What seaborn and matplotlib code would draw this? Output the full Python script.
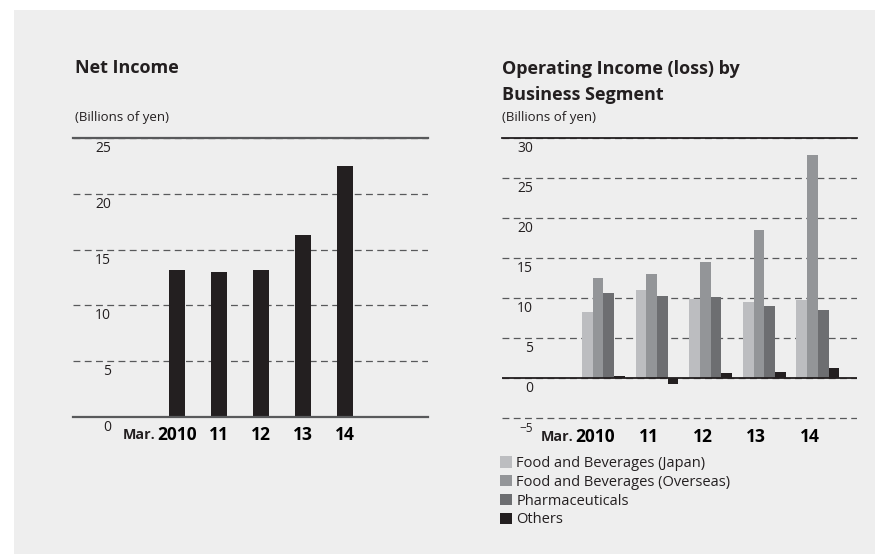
import matplotlib
matplotlib.use("Agg")
import matplotlib.pyplot as plt
import matplotlib.transforms as mtransforms
from matplotlib.patches import Rectangle
import seaborn as sns
import pandas as pd

# ---- data ----
years = ["2010", "11", "12", "13", "14"]
net_income = [13.2, 13.0, 13.2, 16.3, 22.5]

segments = ["Food and Beverages (Japan)", "Food and Beverages (Overseas)",
            "Pharmaceuticals", "Others"]
food_japan = [8.3, 11.0, 9.9, 9.5, 9.8]
food_overseas = [12.5, 13.0, 14.5, 18.5, 27.9]
pharma = [10.6, 10.3, 10.1, 9.0, 8.5]
others = [0.2, -0.7, 0.6, 0.75, 1.25]

left_yticks = [0, 5, 10, 15, 20, 25]
right_yticks = [-5, 0, 5, 10, 15, 20, 25, 30]
right_yticklabels = ["\u22125", "0", "5", "10", "15", "20", "25", "30"]

seg_colors = ["#bcbdc0", "#939598", "#6d6e71", "#231f20"]
bg = "#eeeeee"
grid_col = "#58595b"

plt.rcParams["font.family"] = ["Open Sans", "DejaVu Sans"]
plt.rcParams["text.color"] = "#231f20"

W, H = 875, 554
fig = plt.figure(figsize=(W / 100, H / 100), dpi=100, facecolor="white")
fig.patches.append(Rectangle((14 / W, 0), 1, 1 - 10 / H, transform=fig.transFigure,
                             facecolor=bg, edgecolor="none", zorder=-10))


def fx(px):
    return px / W


def fy(py):
    return 1 - py / H


ax1 = fig.add_axes([fx(73), fy(417), fx(428) - fx(73), fy(138) - fy(417)])
ax2 = fig.add_axes([fx(502), fy(420), fx(857) - fx(502), fy(138) - fy(420)])
for ax in (ax1, ax2):
    ax.set_facecolor("none")

# ---- left chart ----
df1 = pd.DataFrame({"Year": years, "Net Income": net_income})
sns.barplot(data=df1, x="Year", y="Net Income", color="#231f20", width=0.38,
            linewidth=0, saturation=1, ax=ax1, zorder=3)
ax1.set_ylim(0, 25)
ax1.set_xlim(-2.48, 5.98)

# ---- right chart ----
rows = []
for name, vals in zip(segments, [food_japan, food_overseas, pharma, others]):
    for y, v in zip(years, vals):
        rows.append({"Year": y, "Segment": name, "Value": v})
df2 = pd.DataFrame(rows)
sns.barplot(data=df2, x="Year", y="Value", hue="Segment", hue_order=segments,
            palette=seg_colors, width=0.8, linewidth=0, saturation=1,
            ax=ax2, zorder=3)
ax2.set_ylim(-5.25, 30)
ax2.set_xlim(-1.89, 4.73)
handles, labels = ax2.get_legend_handles_labels()
ax2.get_legend().remove()

# ---- styling ----
for ax, yt in ((ax1, left_yticks), (ax2, right_yticks)):
    ax.set_xlabel("")
    ax.set_ylabel("")
    ax.set_yticks(yt)
    for s in ax.spines.values():
        s.set_visible(False)
    ax.yaxis.grid(True, color=grid_col, linewidth=0.9, linestyle=(0, (5.5, 3.5)), zorder=0)
    ax.xaxis.grid(False)
    ax.tick_params(axis="both", length=0)

ax1.spines["top"].set_visible(True)
ax1.spines["top"].set_color(grid_col)
ax1.spines["top"].set_linewidth(1.6)
ax1.spines["bottom"].set_visible(True)
ax1.spines["bottom"].set_color(grid_col)
ax1.spines["bottom"].set_linewidth(1.6)
ax1.spines["bottom"].set_zorder(4)

ax2.spines["top"].set_visible(True)
ax2.spines["top"].set_color("#231f20")
ax2.spines["top"].set_linewidth(1.3)
ax2.axhline(0, color="#231f20", linewidth=1.3, zorder=4)

# y tick labels inside
ax1.tick_params(axis="y", pad=-27.4, labelsize=10, labelcolor="#231f20")
ax2.tick_params(axis="y", pad=-22.3, labelsize=10, labelcolor="#231f20")
ax2.set_yticklabels(right_yticklabels)
for ax in (ax1, ax2):
    for lbl in ax.get_yticklabels():
        lbl.set_va("top")
        lbl.set_transform(lbl.get_transform() +
                          mtransforms.ScaledTranslation(0, -3 / 100, fig.dpi_scale_trans))
for lbl in ax2.get_yticklabels():
    if lbl.get_text().startswith("\u2212"):
        lbl.set_fontsize(8.5)
        lbl.set_transform(lbl.get_transform() +
                          mtransforms.ScaledTranslation(0, -1 / 100, fig.dpi_scale_trans))

# x tick labels
ax1.tick_params(axis="x", pad=6.6, labelsize=12.5)
ax2.tick_params(axis="x", pad=6.0, labelsize=12.5)
for ax in (ax1, ax2):
    for lbl in ax.get_xticklabels():
        lbl.set_fontweight("bold")
shift = mtransforms.ScaledTranslation(-8 / 100, 0, fig.dpi_scale_trans)
for lbl in ax2.get_xticklabels():
    lbl.set_transform(lbl.get_transform() + shift)

# "Mar." prefix
for ax, extra, pad_px in ((ax1, 0, 9.5), (ax2, -8, 8.5)):
    tr = mtransforms.offset_copy(ax.get_xaxis_transform(), fig=fig,
                                 x=(-22 + extra), y=-(pad_px + 1.8), units="dots")
    ax.text(0, 0, "Mar.", transform=tr, ha="right", va="top", fontsize=10.3,
            fontweight="bold", color="#231f20")

# titles
fig.text(fx(75), fy(68), "Net Income", fontsize=13, fontweight="bold", va="center", ha="left")
fig.text(fx(75), fy(117), "(Billions of yen)", fontsize=9.5, va="center", ha="left")
fig.text(fx(502), fy(69), "Operating Income (loss) by", fontsize=13, fontweight="bold",
         va="center", ha="left")
fig.text(fx(502), fy(95), "Business Segment", fontsize=13, fontweight="bold",
         va="center", ha="left")
fig.text(fx(502), fy(117), "(Billions of yen)", fontsize=9.5, va="center", ha="left")

# legend
fig.legend(handles, labels, loc="upper left", bbox_to_anchor=(fx(500), fy(456)),
           frameon=False, fontsize=10.5, handlelength=0.82, handleheight=0.82,
           handletextpad=0.3, labelspacing=0.26, borderpad=0, borderaxespad=0)

fig.savefig("out.png", dpi=100, facecolor="white")
